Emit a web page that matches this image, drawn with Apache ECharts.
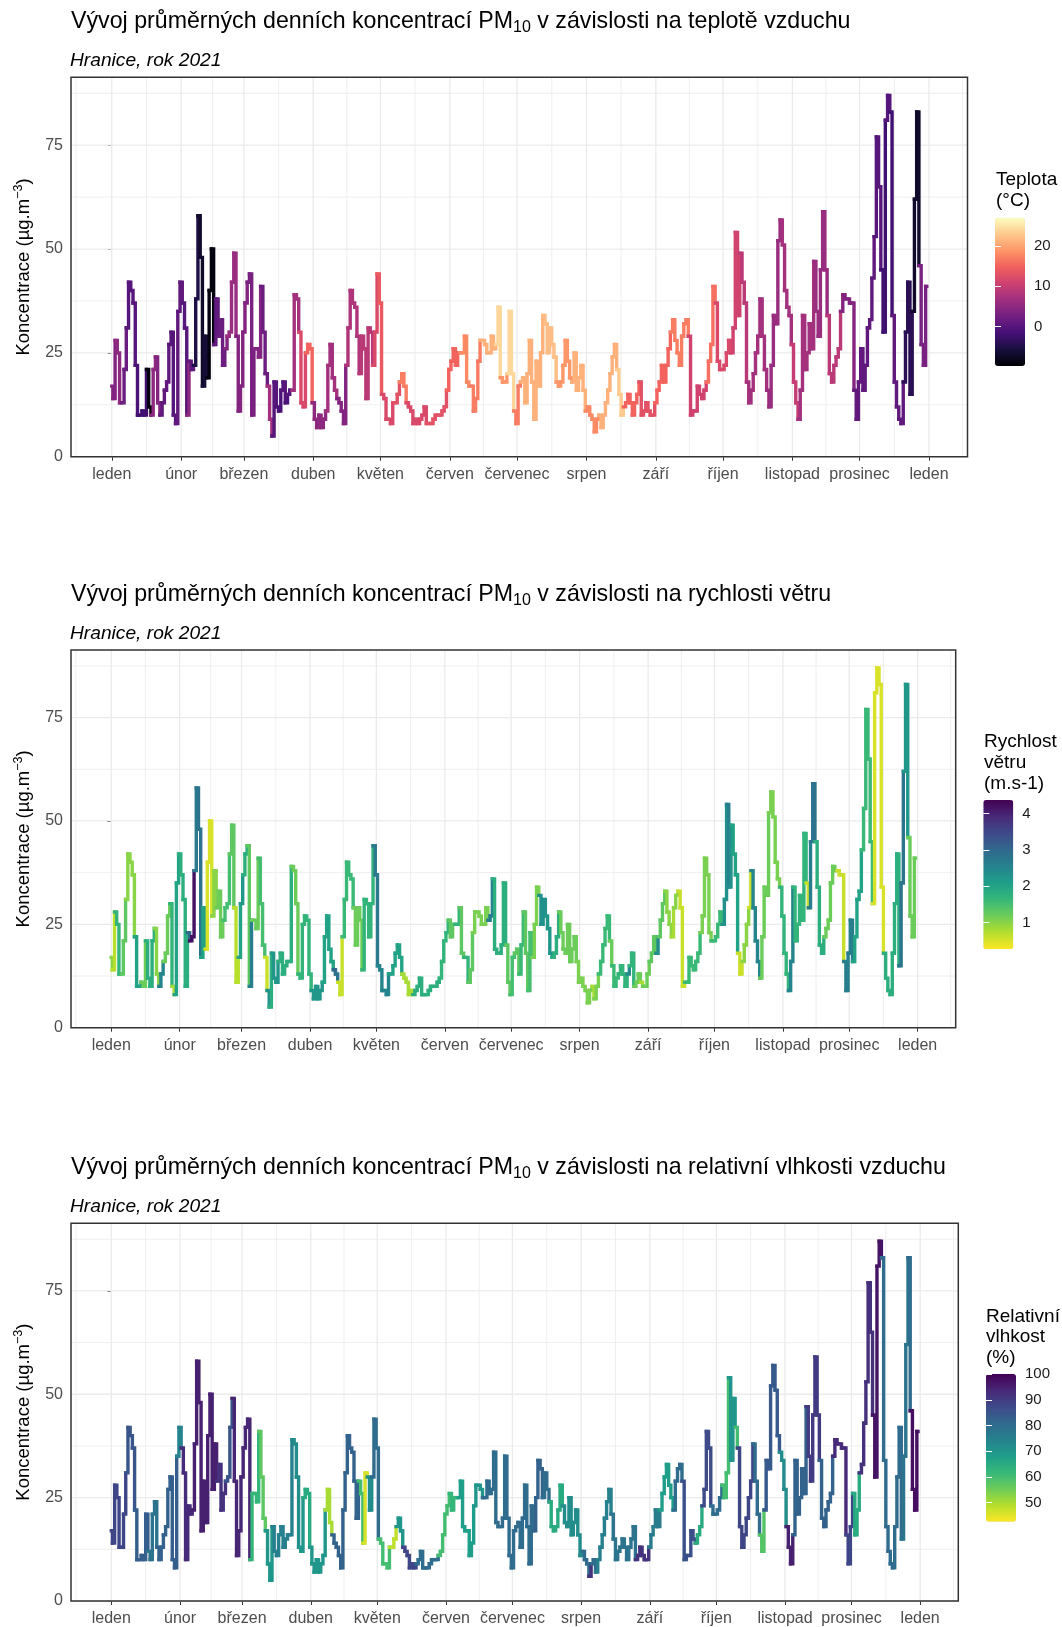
<!DOCTYPE html>
<html>
<head>
<meta charset="utf-8">
<script src="https://cdn.jsdelivr.net/npm/echarts@6/dist/echarts.min.js"></script>
<style>
html,body{margin:0;padding:0;background:#fff;}
#chart{width:1062px;height:1627px;}
</style>
</head>
<body>
<div id="chart"></div>
<script>
// ---------- DATA ----------
const monthStarts = [0,31,59,90,120,151,181,212,243,273,304,334,365];
const monthNames = ['leden','únor','březen','duben','květen','červen','červenec','srpen','září','říjen','listopad','prosinec','leden'];
const monthMinor = [-16,15.5,45,74.5,105,135.5,166,196.5,227.5,258,288.5,319,349.5,380];
const yTicks = [0,25,50,75];
const yMinor = [12.5,37.5,62.5,87.5];

// daily PM10 (µg/m3), 1.1.–31.12.2021
const pm10 = [
17,14,28,25,13,13,21,31,42,40,
37,22,10,10,11,10,21,12,10,21,
24,13,10,13,16,18,27,30,10,8,
35,42,37,31,10,23,21,22,38,58,
48,17,29,19,40,50,27,38,29,33,
22,26,29,30,42,49,29,11,17,30,
37,42,44,10,26,26,24,41,30,20,
17,9,5,18,12,11,16,18,13,15,
16,16,39,38,30,13,12,25,27,26,
13,9,7,10,7,9,11,22,27,19,
16,14,13,11,8,22,31,40,37,36,
29,20,29,26,14,31,30,22,30,44,
37,15,14,9,9,8,13,13,15,18,
20,17,13,12,11,8,9,8,9,10,
12,8,8,8,9,10,10,10,11,12,
16,21,23,26,22,25,25,25,29,18,
17,17,11,14,23,28,28,27,25,25,
29,26,27,36,19,18,18,20,35,20,
11,8,17,18,19,13,20,28,18,9,
23,17,25,34,32,25,31,27,24,18,
17,18,22,28,23,19,18,25,16,19,
22,16,11,12,10,9,6,9,10,7,
10,13,16,20,24,27,21,15,10,12,
13,15,13,10,13,15,18,10,11,13,
11,10,10,13,16,18,22,18,22,26,
30,33,28,25,22,29,32,33,29,10,
11,11,17,15,14,16,18,23,27,41,
37,23,21,21,22,25,28,25,31,54,
34,49,42,37,18,13,16,20,25,29,
38,29,21,16,12,22,34,32,52,57,
51,40,36,34,27,18,13,9,16,34,
21,25,32,26,47,35,29,45,59,45,
34,20,18,22,24,26,35,39,38,38,
37,37,16,9,18,26,16,22,31,33,
43,53,77,65,45,30,81,87,83,34,
18,12,9,8,18,30,42,15,35,62,
83,46,27,22,41];

// daily air temperature (°C)
const teplota = [
4,4,5,5,5,2,2,0,0,0,
0,-1,-2,-2,-2,-2,-9,-9,5,5,
4,4,1,1,1,1,0,0,0,1,
1,1,0,0,5,1,1,-5,-5,-7,
-7,-6,-6,-9,-9,-9,1,1,2,2,
2,4,6,6,6,6,4,4,4,4,
4,3,3,3,4,4,4,2,2,2,
7,7,0,0,-1,-1,0,0,-1,0,
0,7,7,7,12,12,12,15,15,15,
5,5,5,5,5,5,7,7,7,7,
7,4,4,4,4,8,8,8,8,8,
8,9,9,9,9,9,9,12,12,14,
14,12,12,12,12,12,13,13,13,17,
17,17,12,12,12,12,12,12,12,12,
12,13,13,13,13,13,13,13,13,13,
15,15,15,15,15,15,18,18,18,18,
18,17,17,17,17,21,21,21,21,21,
21,21,24,24,19,19,19,24,24,24,
17,17,17,21,21,21,21,21,21,21,
21,21,21,22,22,22,22,22,22,19,
19,19,19,19,19,19,21,21,21,21,
21,21,18,18,18,18,18,18,21,21,
21,21,21,21,21,21,23,23,23,15,
15,15,15,15,15,15,13,13,13,13,
13,13,13,15,15,15,15,15,15,15,
17,17,17,17,17,17,17,17,11,11,
11,11,11,11,11,11,16,16,16,16,
12,12,12,12,12,12,12,11,11,11,
11,9,9,9,7,7,7,7,7,7,
7,7,7,6,6,6,6,6,6,7,
7,7,7,7,10,10,10,7,7,7,
7,7,7,7,6,6,6,6,6,6,
9,9,9,9,9,9,4,4,4,4,
4,4,1,1,1,1,1,1,1,1,
1,0,0,0,-2,-2,0,0,-2,1,
1,1,1,1,-4,-4,-4,-4,-7,-7,
-7,3,3,3,3];

// daily wind speed (m/s)
const vitr = [
1.0,0.7,1.7,1.7,1.7,1.3,1.3,1.0,1.0,1.0,
1.0,2.0,2.0,2.0,1.2,1.2,1.8,1.8,1.8,1.8,
1.0,1.0,2.5,2.5,1.2,1.2,1.2,1.7,0.8,2.0,
2.0,1.8,1.8,1.8,1.8,3.0,4.2,4.2,2.7,2.8,
2.8,2.0,2.0,0.5,0.5,0.5,1.0,1.0,1.2,1.2,
1.2,1.5,1.5,1.5,1.3,1.3,0.7,0.7,2.0,2.2,
1.8,1.8,1.3,2.6,1.2,1.2,1.2,1.5,1.5,1.5,
0.6,2.3,1.8,2.2,2.2,2.2,1.8,1.8,1.8,1.8,
1.8,1.8,1.2,1.2,1.2,1.7,1.7,1.7,1.7,1.7,
1.7,2.2,2.2,2.2,2.2,2.2,2.0,2.0,2.0,2.0,
2.0,3.0,2.8,0.6,0.6,1.6,1.6,1.6,1.6,1.6,
1.2,1.2,1.2,1.2,1.7,1.7,1.7,1.7,1.7,2.7,
2.7,2.5,2.5,2.5,2.5,2.5,2.0,2.0,2.0,2.0,
2.0,2.0,0.8,0.8,0.8,0.8,0.8,1.8,1.8,1.8,
1.8,1.8,1.8,1.8,1.8,1.8,1.8,1.8,1.8,1.7,
1.7,1.7,1.7,1.3,1.3,1.3,1.7,1.7,1.3,1.3,
1.7,1.7,1.3,1.3,1.1,1.1,1.1,1.1,1.1,1.1,
1.1,2.6,2.6,1.8,1.8,1.8,1.8,1.8,1.8,1.3,
1.3,1.5,1.5,1.3,1.3,1.6,1.6,1.3,1.3,1.5,
1.5,1.1,1.1,1.1,2.3,2.3,2.3,2.2,2.2,2.2,
1.8,1.8,1.8,1.2,1.2,1.2,1.2,1.2,1.2,1.2,
1.2,1.1,1.1,1.1,1.1,1.1,1.1,1.1,0.8,1.1,
1.1,1.6,1.6,1.6,1.6,1.6,1.2,1.6,1.6,1.6,
1.7,1.7,1.7,1.7,2.4,1.7,1.7,1.2,1.2,1.2,
0.8,1.2,1.2,1.2,1.3,1.3,1.3,2.4,1.3,1.3,
1.3,1.0,1.0,1.0,0.8,1.0,1.0,0.6,0.6,0.6,
1.6,1.6,1.6,1.6,1.6,1.6,1.6,1.1,1.1,1.1,
1.1,1.1,1.6,1.6,1.6,1.6,1.6,2.3,2.3,2.6,
2.3,2.0,2.0,2.0,0.6,0.6,1.0,1.0,1.0,0.6,
2.5,2.5,2.5,2.5,1.2,1.2,1.2,1.2,1.1,1.1,
1.1,1.1,1.1,1.7,1.7,1.7,1.7,2.5,2.5,1.7,
1.7,1.7,1.7,1.7,1.7,0.6,2.6,2.8,2.8,1.8,
1.8,1.8,1.8,1.2,1.2,1.2,1.2,1.2,1.2,0.6,
0.6,0.6,2.6,2.6,2.6,2.6,2.0,2.0,2.0,2.0,
1.6,1.6,1.6,1.6,1.6,0.5,0.5,0.5,0.5,0.5,
1.8,1.8,1.8,1.8,1.8,1.8,1.8,2.8,2.8,2.2,
2.2,1.2,1.2,1.2,1.2];

// daily relative humidity (%)
const vlhkost = [
88,88,88,88,88,88,88,85,85,85,
85,83,83,83,83,83,83,78,78,78,
78,82,82,82,82,82,82,83,83,83,
74,74,93,93,93,93,93,95,95,95,
95,95,95,95,95,95,95,95,92,92,
92,92,85,85,85,94,94,94,94,94,
94,94,94,62,62,62,62,57,57,57,
70,70,70,75,75,75,75,75,75,75,
75,75,72,72,72,70,70,65,65,65,
70,70,70,70,70,70,70,50,50,50,
82,82,82,82,82,82,82,82,82,82,
82,82,60,60,46,46,72,72,80,80,
80,60,60,60,60,60,48,48,48,70,
70,70,88,88,88,88,88,88,80,80,
80,80,80,80,80,80,80,80,60,60,
60,60,60,62,62,62,62,68,68,68,
68,68,68,68,70,70,70,70,80,80,
80,80,80,80,80,80,80,80,80,80,
80,80,80,80,80,80,80,80,80,80,
80,82,82,82,82,80,80,80,65,65,
65,65,65,65,72,72,72,72,72,72,
72,72,72,80,80,80,92,80,80,75,
75,75,75,75,75,75,78,78,78,78,
78,78,78,78,78,78,78,92,92,92,
92,92,92,76,76,76,76,76,68,68,
68,68,68,68,80,80,80,80,86,86,
86,86,86,86,65,65,65,87,87,87,
87,80,80,80,80,80,60,60,60,70,
70,70,60,88,88,88,88,88,88,88,
80,80,80,58,58,84,84,84,84,84,
84,84,72,72,72,95,95,95,82,82,
82,82,82,82,90,90,90,90,90,90,
82,82,82,82,82,82,93,93,93,93,
93,93,88,88,88,65,65,65,92,92,
92,92,92,92,97,97,97,97,80,80,
80,80,80,80,80,80,80,78,78,78,
80,98,98,98,98];

// colour scale limits and legend breaks (read from legends)
const tempScale = [-9.75, 27];
const tempTicks = [0, 10, 20];
const windScale = [0.27, 4.37];
const windTicks = [1, 2, 3, 4];
const humScale = [42.5, 100.05];
const humTicks = [50, 60, 70, 80, 90, 100];

// ---------- STYLE ----------
const FONT = 'Liberation Sans';
const magma = ['#000004','#180F3E','#451077','#721F81','#9F2F7F','#CD4071','#F1605D','#FD9567','#FEC98D','#FCFDBF'];
const viridisRev = ['#FDE725','#B4DE2C','#6DCD59','#35B779','#1F9E89','#26828E','#31688E','#3E4A89','#482878','#440154'];

const lastDay = pm10.length - 1;
const xPad = lastDay * 0.05;
const yMax = Math.max(...pm10) * 1.05;

const panels = [
  {left:71, top:77.3, width:896.5, height:379.4, titleTop:7.3, subTop:49.5,
   title:'v závislosti na teplotě vzduchu', color: teplota},
  {left:71, top:650, width:884.7, height:377.7, titleTop:580.3, subTop:622.5,
   title:'v závislosti na rychlosti větru', color: vitr},
  {left:71, top:1223.3, width:887.3, height:377.7, titleTop:1153.6, subTop:1195.8,
   title:'v závislosti na relativní vlhkosti vzduchu', color: vlhkost}
];
const legends = [
  {left:995, top:217.7, width:30, height:148.3, scale:tempScale, ticks:tempTicks, colors:magma,
   lines:['Teplota','(°C)'], tx:996, ty:[179.8,201.1]},
  {left:983.3, top:800, width:30, height:149.3, scale:windScale, ticks:windTicks, colors:viridisRev,
   lines:['Rychlost','větru','(m.s-1)'], tx:984, ty:[741.3,762.3,783.3]},
  {left:986, top:1374, width:30, height:147.7, scale:humScale, ticks:humTicks, colors:viridisRev,
   lines:['Relativní','vlhkost','(%)'], tx:986, ty:[1316.3,1336.8,1357.3]}
];

const richTitle = {
  a:{fontSize:23.2, lineHeight:28, fontFamily:FONT, color:'#000', fontWeight:'normal'},
  s:{fontSize:16, lineHeight:14, fontFamily:FONT, color:'#000', fontWeight:'normal', verticalAlign:'bottom'}
};

function vRender(params, api) {
  const x = api.coord([api.value(0), 0])[0];
  const cs = params.coordSys;
  return {type:'line', silent:true,
    shape:{x1:x, y1:cs.y, x2:x, y2:cs.y+cs.height},
    style:{stroke:'#ebebeb', lineWidth:api.value(1)}};
}
function hRender(params, api) {
  const y = api.coord([0, api.value(0)])[1];
  const cs = params.coordSys;
  return {type:'line', silent:true,
    shape:{x1:cs.x, y1:y, x2:cs.x+cs.width, y2:y},
    style:{stroke:'#ebebeb', lineWidth:api.value(1)}};
}
function stepRender(params, api) {
  const d = api.value(0), v = api.value(1), vn = api.value(3);
  const xa = d === 0 ? 0 : d - 0.5;
  const xb = d === lastDay ? lastDay : d + 0.5;
  const pts = [api.coord([xa, v]), api.coord([xb, v])];
  if (d !== lastDay) pts.push(api.coord([xb, vn]));
  return {type:'polyline', silent:true, shape:{points:pts},
    style:{stroke:api.visual('color'), lineWidth:3.4, fill:null, lineJoin:'miter', lineCap:'square'}};
}

const xGridData = monthStarts.map(d => [d, 1.3]).concat(monthMinor.map(d => [d, 0.8]));
const yGridData = yTicks.map(v => [v, 1.3]).concat(yMinor.map(v => [v, 0.8]));

const option = {
  animation:false,
  backgroundColor:'#fff',
  textStyle:{fontFamily:FONT},
  title:[], grid:[], xAxis:[], yAxis:[], visualMap:[], series:[], graphic:[]
};

panels.forEach((p, k) => {
  option.title.push({
    left:71, top:p.titleTop, padding:0,
    text:'{a|Vývoj průměrných denních koncentrací PM}{s|10}{a| ' + p.title + '}',
    textStyle:{fontWeight:'normal', rich:richTitle}
  });
  option.title.push({
    left:70, top:p.subTop, padding:0, text:'Hranice, rok 2021',
    textStyle:{fontFamily:FONT, fontStyle:'italic', fontWeight:'normal', fontSize:19.2, lineHeight:22, color:'#000'}
  });
  option.grid.push({left:p.left, top:p.top, width:p.width, height:p.height, show:true,
    backgroundColor:'transparent', borderColor:'#333', borderWidth:1.5, z:3,
    containLabel:false, outerBoundsMode:'none'});
  option.xAxis.push({gridIndex:k, type:'value', min:-xPad, max:lastDay + xPad,
    splitLine:{show:false}, axisLine:{show:false},
    axisTick:{show:true, customValues:monthStarts, length:4, lineStyle:{color:'#333', width:1}},
    axisLabel:{customValues:monthStarts, margin:10, color:'#4d4d4d', fontSize:16, fontFamily:FONT,
      formatter:(v) => monthNames[monthStarts.indexOf(Math.round(v))]}
  });
  option.yAxis.push({gridIndex:k, type:'value', min:0, max:yMax,
    splitLine:{show:false}, axisLine:{show:false},
    axisTick:{show:true, customValues:yTicks, length:4, lineStyle:{color:'#333', width:1}},
    axisLabel:{customValues:yTicks, margin:8, color:'#4d4d4d', fontSize:16, fontFamily:FONT},
    name:'{a|Koncentrace (µg.m}{b|−3}{a|)}', nameLocation:'middle', nameGap:35, nameRotate:90,
    nameMoveOverlap:false,
    nameTextStyle:{rich:{
      a:{fontSize:18.5, lineHeight:24, color:'#000', fontFamily:FONT},
      b:{fontSize:12.5, lineHeight:12, color:'#000', fontFamily:FONT, verticalAlign:'top'}
    }}
  });
  option.series.push({type:'custom', xAxisIndex:k, yAxisIndex:k, data:xGridData, renderItem:vRender, z:1, silent:true});
  option.series.push({type:'custom', xAxisIndex:k, yAxisIndex:k, data:yGridData, renderItem:hRender, z:1, silent:true});
  option.series.push({type:'custom', xAxisIndex:k, yAxisIndex:k,
    data:pm10.map((v, i) => [i, v, p.color[i], i < lastDay ? pm10[i + 1] : v]),
    renderItem:stepRender, z:5, silent:true});
});

legends.forEach((L, j) => {
  const gi = 3 + j;
  option.grid.push({left:L.left, top:L.top, width:L.width, height:L.height, show:false,
    containLabel:false, outerBoundsMode:'none'});
  option.xAxis.push({gridIndex:gi, type:'value', min:0, max:1, show:false});
  option.yAxis.push({gridIndex:gi, type:'value', position:'right', min:L.scale[0], max:L.scale[1], z:10,
    axisLine:{show:false}, splitLine:{show:false},
    axisTick:{show:true, inside:true, customValues:L.ticks, length:6, lineStyle:{color:'#fff', width:1}},
    axisLabel:{customValues:L.ticks, margin:9, color:'#1a1a1a', fontSize:15, fontFamily:FONT}
  });
  option.yAxis.push({gridIndex:gi, type:'value', position:'left', min:L.scale[0], max:L.scale[1], z:10,
    axisLine:{show:false}, splitLine:{show:false},
    axisTick:{show:true, inside:true, customValues:L.ticks, length:6, lineStyle:{color:'#fff', width:1}},
    axisLabel:{show:false}
  });
  option.visualMap.push({type:'continuous', seriesIndex:3 * j + 2, dimension:2,
    min:L.scale[0], max:L.scale[1], inRange:{color:L.colors},
    left:L.left, top:L.top, itemWidth:L.width, itemHeight:L.height, orient:'vertical',
    calculable:false, hoverLink:false, padding:0, z:2});
  L.lines.forEach((t, m) => {
    option.graphic.push({type:'text', x:L.tx, y:L.ty[m], silent:true,
      style:{text:t, fontSize:19, fontFamily:FONT, fill:'#000',
        align:'left', verticalAlign:'middle', textAlign:'left', textVerticalAlign:'middle'}});
  });
});

const chart = echarts.init(document.getElementById('chart'), null, {renderer:'canvas'});
chart.setOption(option);
</script>
</body>
</html>
